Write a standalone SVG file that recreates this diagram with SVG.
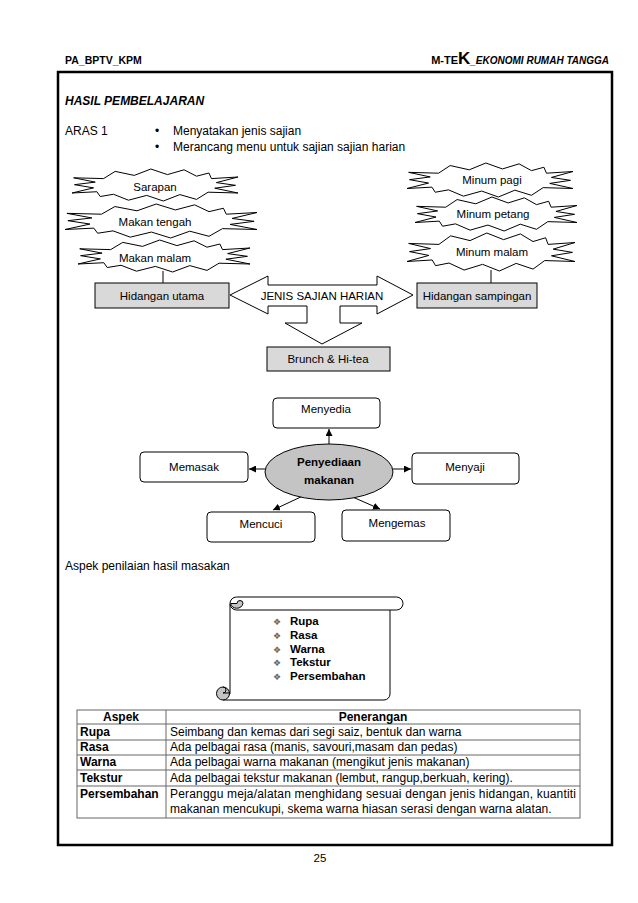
<svg xmlns="http://www.w3.org/2000/svg" xmlns:xlink="http://www.w3.org/1999/xlink" width="638" height="903" viewBox="0 0 638 903">
<style>
text{font-family:"Liberation Sans",Arial,sans-serif;font-size:11.5px;fill:#000}
.c{text-anchor:middle}
.b{font-weight:bold}
.it{font-size:12px}
.tt{font-size:12px}
.dm{font-family:"DejaVu Sans",sans-serif;font-size:9px;fill:#666;text-anchor:middle}
.cloud{fill:none;stroke:#000;stroke-width:1;vector-effect:non-scaling-stroke}
.gbox{fill:#d9d9d9;stroke:#000;stroke-width:1}
.wbox{fill:#fff;stroke:#000;stroke-width:1}
.ln{stroke:#000;stroke-width:1;fill:none}
.arr{stroke:#000;stroke-width:1;fill:none;marker-end:url(#ah)}
.tl{stroke:#666;stroke-width:1;fill:none}
</style>
<defs>
<marker id="ah" viewBox="0 0 10 10" refX="10" refY="5" markerWidth="7" markerHeight="7" markerUnits="userSpaceOnUse" orient="auto">
<path d="M0,0 L10,5 L0,10 Z" fill="#000"/>
</marker>
<path id="cloudp" class="cloud" d="M-0.62,-0.4 L-0.48,-0.85 L-0.25,-0.6 L-0.05,-1 L0.15,-0.65 L0.35,-0.95 L0.5,-0.55 L0.65,-0.75 L0.68,-0.4 L1,-0.5 L0.74,-0.15 L0.97,0.02 L0.72,0.2 L1,0.5 L0.64,0.45 L0.5,0.9 L0.3,0.6 L0.1,1 L-0.1,0.65 L-0.32,0.95 L-0.5,0.58 L-0.66,0.72 L-0.7,0.42 L-1,0.5 L-0.74,0.18 L-0.97,-0.02 L-0.72,-0.18 L-0.98,-0.45 Z"/>
</defs>
<rect width="638" height="903" fill="#fff"/>

<g id="header">
<text x="65" y="64" class="b" style="font-size:10.5px">PA_BPTV_KPM</text>
<text x="609" y="64" class="b" style="text-anchor:end;font-size:11px">M-TE<tspan style="font-size:17px">K</tspan><tspan style="font-style:italic;font-size:10px">_EKONOMI RUMAH TANGGA</tspan></text>
</g>
<rect id="frame" x="58" y="72" width="554" height="773" fill="none" stroke="#000" stroke-width="2.5"/>

<g id="intro">
<text x="65" y="105" class="b" style="font-style:italic;font-size:12px">HASIL PEMBELAJARAN</text>
<text x="65" y="135" class="it">ARAS 1</text>
<text x="155" y="135" class="it">•</text>
<text x="173" y="135" class="it">Menyatakan jenis sajian</text>
<text x="155" y="151" class="it">•</text>
<text x="173" y="151" class="it">Merancang menu untuk sajian sajian harian</text>
</g>

<g id="connectors">
<line class="ln" x1="163" y1="271" x2="163" y2="283"/>
<line class="ln" x1="491" y1="270" x2="491" y2="283"/>
<line class="arr" x1="329" y1="444" x2="329" y2="429"/>
<line class="arr" x1="265" y1="469" x2="249" y2="469"/>
<line class="arr" x1="393" y1="469" x2="411" y2="469"/>
<line class="arr" x1="305" y1="495" x2="273" y2="510"/>
<line class="arr" x1="348" y1="495" x2="380" y2="509"/>
</g>

<g id="sarapan"><use xlink:href="#cloudp" transform="translate(155,185) scale(83,16)"/><text x="155" y="191" class="c">Sarapan</text></g>
<g id="makan-tengah"><use xlink:href="#cloudp" transform="translate(161,221) scale(96,17)"/><text x="155" y="226" class="c">Makan tengah</text></g>
<g id="makan-malam"><use xlink:href="#cloudp" transform="translate(164,256) scale(86,16)"/><text x="155" y="262" class="c">Makan malam</text></g>
<g id="minum-pagi"><use xlink:href="#cloudp" transform="translate(490,180) scale(83,17)"/><text x="492" y="184" class="c">Minum pagi</text></g>
<g id="minum-petang"><use xlink:href="#cloudp" transform="translate(496,214) scale(81,17)"/><text x="493" y="218" class="c">Minum petang</text></g>
<g id="minum-malam"><use xlink:href="#cloudp" transform="translate(491,252) scale(84,19)"/><text x="492" y="256" class="c">Minum malam</text></g>

<g id="hidangan-utama"><rect class="gbox" x="95" y="283" width="134" height="25"/><text x="162" y="300" class="c">Hidangan utama</text></g>
<g id="hidangan-sampingan"><rect class="gbox" x="417" y="283" width="120" height="25"/><text x="477" y="300" class="c">Hidangan sampingan</text></g>
<g id="jenis-sajian"><polygon class="wbox" points="230,295 268,276 268,285 377,285 377,276 413,295 377,314 377,306 340,306 340,323 362,323 322,344 285,323 307,323 307,306 268,306 268,314"/><text x="322" y="300" class="c">JENIS SAJIAN HARIAN</text></g>
<g id="brunch"><rect class="gbox" x="267" y="347" width="123" height="24"/><text x="328" y="363" class="c">Brunch &amp; Hi-tea</text></g>

<g id="menyedia"><rect class="wbox" x="273" y="398" width="107" height="30" rx="4"/><text x="326" y="413" class="c">Menyedia</text></g>
<g id="penyediaan"><ellipse cx="329" cy="472" rx="64" ry="28" fill="#c4c4c4" stroke="#000"/><text x="329" y="466" class="c b">Penyediaan</text><text x="329" y="484" class="c b">makanan</text></g>
<g id="memasak"><rect class="wbox" x="140" y="452" width="108" height="30" rx="4"/><text x="194" y="471" class="c">Memasak</text></g>
<g id="menyaji"><rect class="wbox" x="412" y="453" width="107" height="31" rx="4"/><text x="465" y="471" class="c">Menyaji</text></g>
<g id="mencuci"><rect class="wbox" x="207" y="512" width="108" height="30" rx="4"/><text x="261" y="528" class="c">Mencuci</text></g>
<g id="mengemas"><rect class="wbox" x="342" y="510" width="108" height="31" rx="4"/><text x="397" y="527" class="c">Mengemas</text></g>

<text x="65" y="570" class="it">Aspek penilaian hasil masakan</text>

<g id="scroll">
<path class="wbox" d="M230,604 L230,694 L223,700 L384,700 A6,6 0 0 0 390,694 L390,610"/>
<rect class="wbox" x="230" y="597" width="173" height="13" rx="6.5"/>
<path d="M230.5,603.5 A6.5,6.5 0 0 0 243,603.5 A3,3 0 0 0 237,603.5 Z" fill="#c4c4c4" stroke="#000"/>
<circle cx="223" cy="693.5" r="6.5" fill="#c4c4c4" stroke="#000"/>
<path class="ln" d="M223,687 A3,3 0 0 1 223,693 L230,693"/>
<text x="277" y="625" class="dm">❖</text>
<text x="277" y="639" class="dm">❖</text>
<text x="277" y="653" class="dm">❖</text>
<text x="277" y="666" class="dm">❖</text>
<text x="277" y="680" class="dm">❖</text>
<text x="290" y="625" class="b">Rupa</text>
<text x="290" y="639" class="b">Rasa</text>
<text x="290" y="653" class="b">Warna</text>
<text x="290" y="666" class="b">Tekstur</text>
<text x="290" y="680" class="b">Persembahan</text>
</g>

<g id="table">
<rect class="tl" x="77" y="710" width="503" height="108"/>
<line class="tl" x1="166" y1="710" x2="166" y2="818"/>
<line class="tl" x1="77" y1="724" x2="580" y2="724"/>
<line class="tl" x1="77" y1="740" x2="580" y2="740"/>
<line class="tl" x1="77" y1="755" x2="580" y2="755"/>
<line class="tl" x1="77" y1="770" x2="580" y2="770"/>
<line class="tl" x1="77" y1="786" x2="580" y2="786"/>
<text x="121" y="721" class="c b tt">Aspek</text>
<text x="373" y="721" class="c b tt">Penerangan</text>
<text x="80" y="736" class="b tt">Rupa</text>
<text x="170" y="736" class="tt">Seimbang dan kemas dari segi saiz, bentuk dan warna</text>
<text x="80" y="751" class="b tt">Rasa</text>
<text x="170" y="751" class="tt">Ada pelbagai rasa (manis, savouri,masam dan pedas)</text>
<text x="80" y="766" class="b tt">Warna</text>
<text x="170" y="766" class="tt">Ada pelbagai warna makanan (mengikut jenis makanan)</text>
<text x="80" y="782" class="b tt">Tekstur</text>
<text x="170" y="782" class="tt">Ada pelbagai tekstur makanan (lembut, rangup,berkuah, kering).</text>
<text x="80" y="798" class="b tt">Persembahan</text>
<text x="170" y="798" class="tt" textLength="406" lengthAdjust="spacing">Peranggu meja/alatan menghidang sesuai dengan jenis hidangan, kuantiti</text>
<text x="170" y="813" class="tt">makanan mencukupi, skema warna hiasan serasi dengan warna alatan.</text>
</g>

<text x="320" y="862" class="c">25</text>
</svg>
